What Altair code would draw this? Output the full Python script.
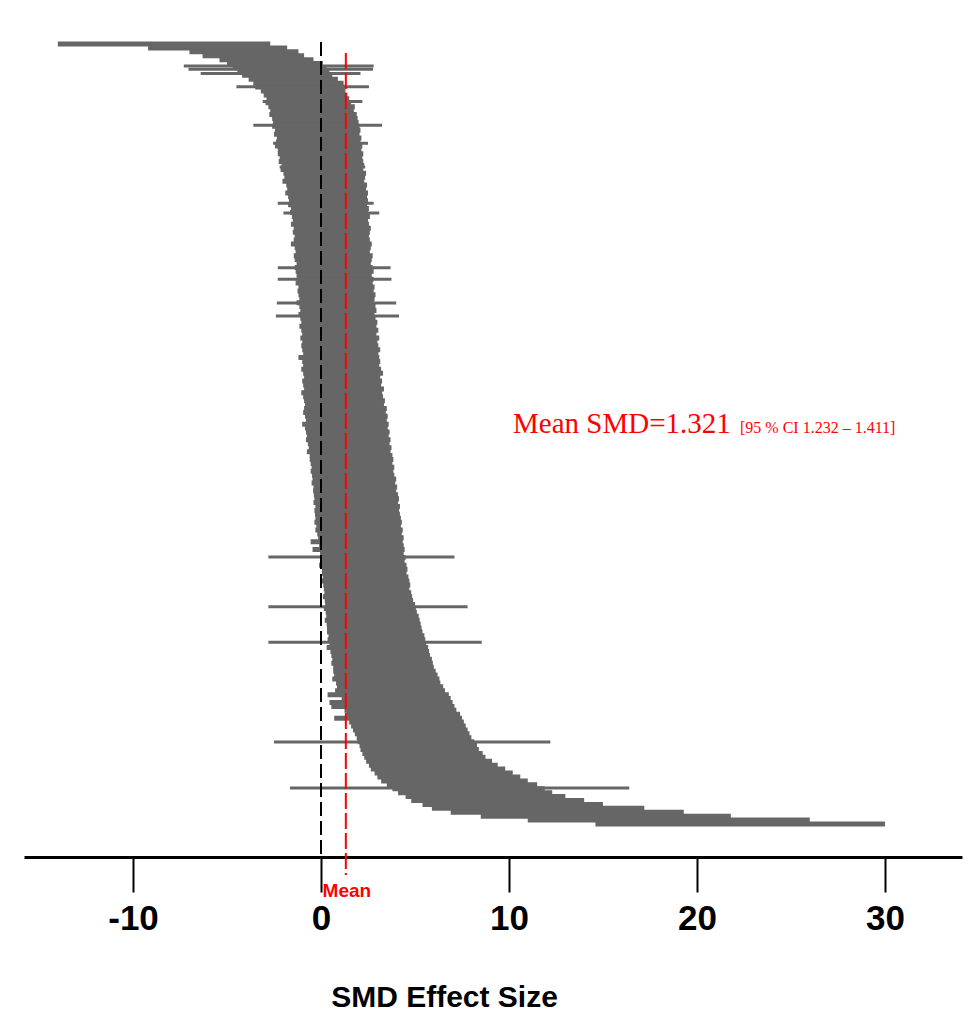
import altair as alt
import pandas as pd

# ---- data: lower / upper CI bound of each study, sorted by effect size ----
LO = [
    -14.0, -9.2, -7.0, -6.3, -5.4, -5.0, -4.7, -4.45, -4.2, -3.85,
    -3.6, -3.5, -3.2, -3.05, -2.9, -2.95, -2.8, -2.7, -2.75, -2.6,
    -2.55, -2.6, -2.45, -2.5, -2.35, -2.4, -2.45, -2.3, -2.3, -2.2,
    -2.25, -2.1, -2.15, -2.0, -1.95, -2.05, -1.85, -1.8, -1.9, -1.75,
    -1.7, -1.75, -1.6, -1.65, -1.55, -1.5, -1.6, -1.45, -1.5, -1.4,
    -1.45, -1.6, -1.4, -1.35, -1.45, -1.4, -1.3, -1.4, -1.35, -1.3,
    -1.25, -1.35, -1.2, -1.25, -1.2, -1.15, -1.3, -1.15, -1.1, -1.2,
    -1.1, -1.05, -1.15, -1.05, -1.0, -1.1, -1.0, -1.05, -1.0, -0.95,
    -1.2, -1.0, -0.95, -1.05, -0.95, -0.9, -1.0, -0.95, -0.9, -1.05,
    -0.95, -0.9, -0.85, -0.9, -0.95, -0.85, -0.8, -1.0, -0.85, -0.8,
    -0.75, -0.8, -0.7, -0.65, -0.75, -0.6, -0.6, -0.55, -0.5, -0.55,
    -0.48, -0.45, -0.5, -0.4, -0.42, -0.38, -0.35, -0.4, -0.3, -0.35,
    -0.32, -0.3, -0.35, -0.25, -0.3, -0.2, -0.15, -0.55, -0.1, -0.45,
    -0.05, -0.05, 0.0, -0.1, 0.05, 0.05, 0.1, 0.0, 0.12, 0.15,
    0.18, 0.1, 0.2, 0.22, 0.15, 0.25, 0.28, 0.2, 0.3, 0.32,
    0.32, 0.4, 0.35, 0.45, 0.3, 0.5, 0.55, 0.6, 0.55, 0.65,
    0.65, 0.7, 0.6, 0.8, 0.85, 0.75, 0.35, 1.1, 0.45, 0.55,
    1.25, 1.35, 0.7, 1.5, 1.6, 1.7, 1.8, 1.9, 1.95, 2.05,
    2.1, 2.2, 2.3, 2.4, 2.55, 2.65, 2.85, 3.0, 3.2, 3.5,
    3.8, 4.1, 4.5, 4.8, 5.4, 5.9, 6.9, 8.5, 11.0, 14.6,
]
HI = [
    -2.7, -1.8, -1.2, -0.9, -0.4, 0.1, 0.3, 0.45, 0.6, 0.9,
    1.2, 1.25, 1.3, 1.4, 1.5, 1.6, 1.8, 1.75, 1.9, 1.95,
    2.0, 2.05, 2.1, 2.05, 2.15, 2.1, 2.2, 2.15, 2.25, 2.2,
    2.25, 2.3, 2.25, 2.4, 2.35, 2.3, 2.45, 2.4, 2.5, 2.45,
    2.5, 2.45, 2.55, 2.5, 2.6, 2.5, 2.55, 2.65, 2.6, 2.55,
    2.6, 2.7, 2.65, 2.6, 2.75, 2.7, 2.65, 2.75, 2.8, 2.7,
    2.8, 2.75, 2.85, 2.8, 2.9, 2.85, 2.8, 2.9, 2.95, 2.85,
    2.9, 3.0, 2.95, 3.05, 2.95, 3.1, 3.0, 3.05, 3.15, 3.05,
    3.1, 3.15, 3.1, 3.2, 3.3, 3.15, 3.25, 3.2, 3.35, 3.25,
    3.3, 3.4, 3.35, 3.5, 3.45, 3.55, 3.5, 3.6, 3.55, 3.65,
    3.6, 3.7, 3.65, 3.75, 3.7, 3.8, 3.85, 3.8, 3.9, 3.85,
    3.9, 4.0, 3.95, 4.05, 4.0, 4.1, 4.15, 4.1, 4.2, 4.15,
    4.2, 4.25, 4.3, 4.25, 4.35, 4.3, 4.4, 4.35, 4.4, 4.45,
    4.4, 4.5, 4.45, 4.55, 4.6, 4.55, 4.65, 4.7, 4.75, 4.7,
    4.8, 4.85, 4.9, 5.0, 5.05, 5.1, 5.2, 5.25, 5.3, 5.35,
    5.4, 5.5, 5.55, 5.6, 5.7, 5.75, 5.8, 5.9, 5.95, 6.0,
    6.1, 6.2, 6.3, 6.35, 6.5, 6.6, 6.8, 6.9, 7.0, 7.1,
    7.2, 7.4, 7.5, 7.6, 7.7, 7.8, 7.9, 8.0, 8.15, 8.3,
    8.4, 8.6, 8.75, 9.1, 9.4, 9.8, 10.2, 10.6, 11.0, 11.5,
    11.9, 12.3, 13.0, 14.0, 15.0, 17.2, 19.3, 21.8, 26.0, 30.0,
]

# studies with wide intervals (position in the sorted order, lower, upper)
OUT_RANK = [5.6, 6.45, 7.5, 10.9, 14.7, 20.7, 25.3, 31.4, 40.6, 43.1,
            57.1, 60.0, 66.1, 69.4, 130.9, 143.6, 152.6, 178.1, 189.8]
OUT_LO = [-7.3, -7.05, -6.4, -4.5, -3.1, -3.6, -2.55, -2.2, -2.3, -2.0,
          -2.3, -2.3, -2.35, -2.4, -2.8, -2.8, -2.8, -2.5, -1.65]
OUT_HI = [2.8, 2.77, 2.1, 2.55, 2.2, 3.25, 2.5, 2.35, 2.8, 3.1,
          3.7, 3.75, 4.0, 4.15, 7.1, 7.8, 8.55, 12.2, 16.4]

MEAN = 1.321
CI_LO = 1.232
CI_HI = 1.411
X_TICKS = [-10, 0, 10, 20, 30]

main_df = pd.DataFrame({"rank": list(range(len(LO))), "lo": LO, "hi": HI})
out_df = pd.DataFrame({"rank": OUT_RANK, "lo": OUT_LO, "hi": OUT_HI})

GRAY = "#666666"
SANS = "'Liberation Sans', Arial, sans-serif"
SERIF = "'Liberation Serif', 'Times New Roman', serif"

xscale = alt.Scale(domain=[-15.8, 34.1], nice=False, zero=False)
yscale = alt.Scale(domain=[-3.57, 207.42], nice=False, zero=False, reverse=True)

xaxis = alt.Axis(
    values=X_TICKS, grid=False, domain=True, domainColor="black", domainWidth=3,
    ticks=True, tickColor="black", tickWidth=2, tickSize=35,
    labelExpr="'' + datum.value",
    labelFont=SANS, labelFontSize=35, labelFontWeight="bold", labelColor="black",
    labelPadding=9, labelFlush=False,
    title="SMD Effect Size", titleFont=SANS, titleFontSize=30, titleFontWeight="bold",
    titleColor="black", titleX=420, titleY=149, titleBaseline="alphabetic",
    titleAlign="center", titleAnchor="start",
)

main = alt.Chart(main_df).mark_rule(color=GRAY, strokeWidth=5).encode(
    x=alt.X("lo:Q", scale=xscale, axis=xaxis),
    x2="hi:Q",
    y=alt.Y("rank:Q", scale=yscale, axis=None),
)

outl = alt.Chart(out_df).mark_rule(color=GRAY, strokeWidth=3).encode(
    x="lo:Q", x2="hi:Q", y="rank:Q",
)

zero_line = alt.Chart(pd.DataFrame({"v": [0]})).mark_rule(
    color="black", strokeWidth=2, strokeDash=[14, 5]
).encode(x="v:Q", y=alt.value(12), y2=alt.value(827))

mean_line = alt.Chart(pd.DataFrame({"v": [MEAN]})).mark_rule(
    color="red", strokeWidth=2, strokeDash=[16, 4]
).encode(x="v:Q", y=alt.value(23), y2=alt.value(845))

mean_lbl = alt.Chart(pd.DataFrame({"v": [MEAN], "t": ["Mean"]})).mark_text(
    color="red", font=SANS, fontSize=19, fontWeight="bold",
    align="center", baseline="alphabetic", dx=1,
).encode(x="v:Q", y=alt.value(867), text="t:N")

main_txt = alt.Chart(pd.DataFrame({"t": [f"Mean SMD={MEAN:.3f}"]})).mark_text(
    color="red", font=SERIF, fontSize=29,
    align="left", baseline="alphabetic",
).encode(x=alt.value(489), y=alt.value(403), text="t:N")

ci_txt = alt.Chart(pd.DataFrame({"t": [f"[95 % CI {CI_LO:.3f} \u2013 {CI_HI:.3f}]"]})).mark_text(
    color="red", font=SERIF, fontSize=16,
    align="left", baseline="alphabetic",
).encode(x=alt.value(716), y=alt.value(403), text="t:N")

chart = alt.layer(main, outl, zero_line, mean_line, mean_lbl, main_txt, ci_txt).properties(
    width=938, height=827,
    autosize=alt.AutoSizeParams(type="none"),
    padding={"left": 24, "top": 30, "right": 13, "bottom": 159},
    background="white",
).configure_view(stroke=None)

chart.save("out.html", embed_options={"renderer": "svg", "actions": False})
